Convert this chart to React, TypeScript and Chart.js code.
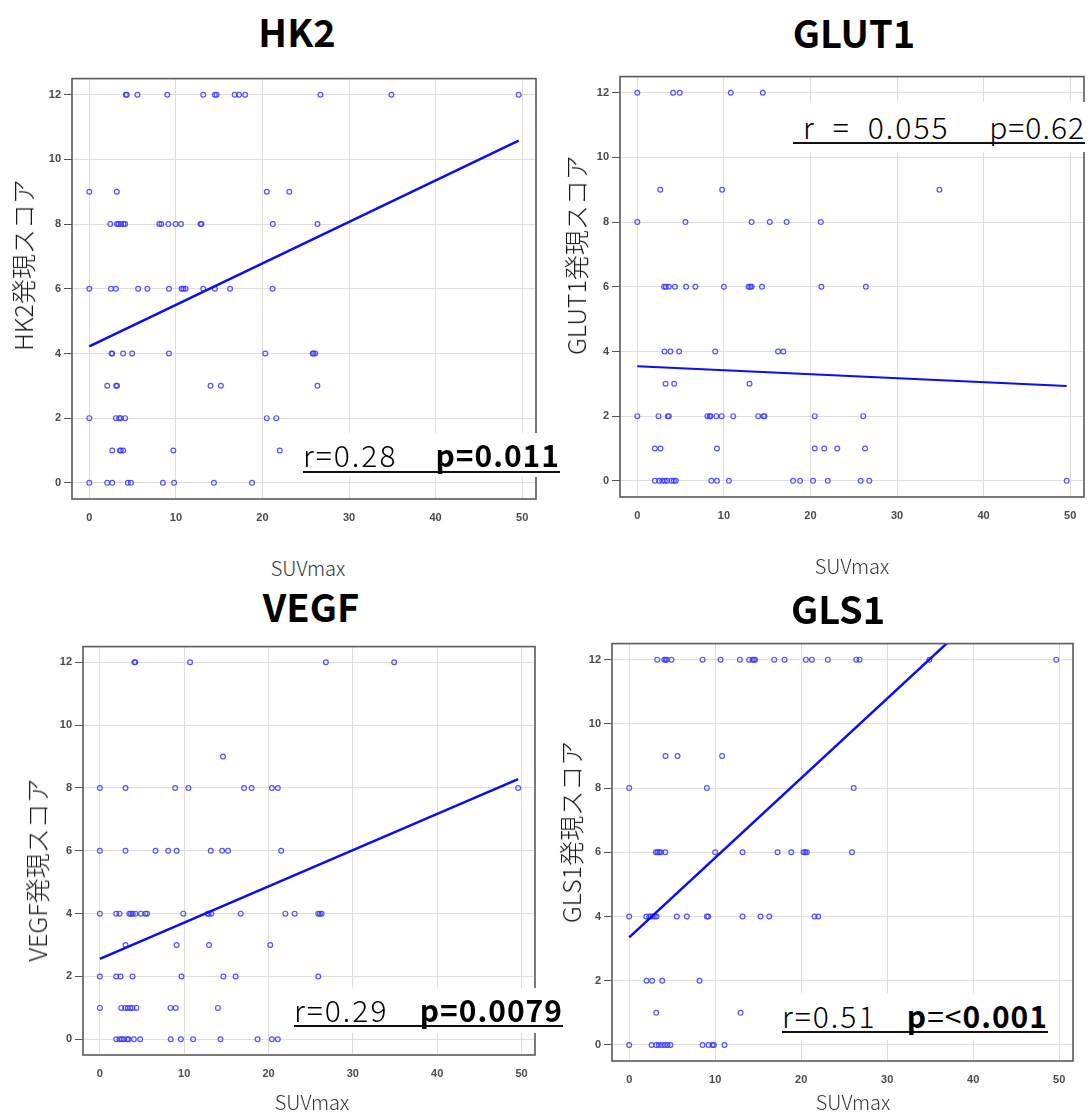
import React, { useEffect, useRef } from "react";
import { Chart, registerables } from "chart.js";

Chart.register(...registerables);

// ---------- shared axis data ----------
const xTicks = [0, 10, 20, 30, 40, 50];
const yTicks = [0, 2, 4, 6, 8, 10, 12];
const xMin = -2;
const xMax = 51.6;
const yMin = -0.5;
const yMax = 12.5;
const xAxisTitle = "SUVmax";

// ---------- HK2 ----------
const hk2Levels = [12, 9, 8, 6, 4, 3, 2, 1, 0];
const hk2Suv = [
  [4.22, 4.33, 5.56, 9.01, 13.16, 14.5, 14.7, 16.8, 17.3, 18.0, 26.7, 34.9, 49.6],
  [0, 3.18, 20.5, 23.1],
  [2.42, 3.18, 3.38, 3.64, 3.95, 4.14, 8.09, 8.32, 9.13, 9.97, 10.6, 12.85, 12.96, 21.2, 26.35],
  [0, 2.5, 3.07, 5.64, 6.71, 9.2, 10.66, 10.86, 11.12, 13.16, 14.5, 16.26, 21.17],
  [2.57, 2.65, 3.91, 4.95, 9.2, 20.33, 25.8, 25.9, 26.1],
  [2.07, 3.1, 3.2, 14.0, 15.2, 26.35],
  [0, 3.07, 3.45, 3.64, 4.14, 20.5, 21.6],
  [2.65, 3.53, 3.64, 3.91, 9.7, 22.0],
  [0, 2.07, 2.65, 4.45, 4.8, 8.5, 9.8, 14.4, 18.8],
];
const hk2Fit = [[0, 4.22], [49.6, 10.58]];

// ---------- GLUT1 ----------
const glut1Levels = [12, 9, 8, 6, 4, 3, 2, 1, 0];
const glut1Suv = [
  [0, 4.14, 4.9, 10.8, 14.5],
  [2.65, 9.8, 34.9],
  [0, 5.56, 13.2, 15.3, 17.25, 21.2],
  [3.1, 3.3, 3.65, 4.34, 5.64, 6.71, 10.0, 12.85, 13.04, 13.2, 14.4, 21.26, 26.4],
  [3.14, 3.83, 4.83, 9.0, 16.26, 16.87],
  [3.26, 4.26, 12.96],
  [0, 2.45, 3.53, 3.64, 8.1, 8.36, 8.47, 9.13, 9.74, 11.08, 13.96, 14.57, 14.69, 20.5, 26.1],
  [2.03, 2.68, 9.2, 20.5, 21.6, 23.1, 26.3],
  [2.03, 2.53, 2.88, 3.18, 3.45, 3.95, 4.22, 4.45, 8.55, 9.2, 10.58, 18.0, 18.8, 20.3, 22.0, 25.8, 26.8, 49.6],
];
const glut1Fit = [[0, 3.54], [49.6, 2.93]];

// ---------- VEGF ----------
const vegfLevels = [12, 9, 8, 6, 4, 3, 2, 1, 0];
const vegfSuv = [
  [4.1, 4.2, 10.7, 26.8, 34.9],
  [14.6],
  [0, 3.04, 8.93, 10.5, 17.1, 18.0, 20.4, 21.1, 49.6],
  [0, 3.04, 6.6, 8.1, 9.1, 13.15, 14.5, 15.2, 21.5],
  [0, 1.94, 2.33, 3.5, 3.7, 3.9, 4.2, 4.86, 5.4, 5.6, 9.9, 12.8, 12.9, 13.2, 16.7, 22.0, 23.1, 25.9, 26.1, 26.3],
  [3.04, 9.1, 12.95, 20.2],
  [0, 1.94, 2.45, 3.87, 9.68, 14.65, 16.1, 25.9],
  [0, 2.53, 3.0, 3.3, 3.6, 3.87, 4.34, 8.37, 9.0, 14.0],
  [1.94, 2.33, 2.6, 2.84, 3.24, 3.4, 4.03, 4.78, 8.4, 9.6, 11.06, 14.3, 18.7, 20.4, 21.1],
];
const vegfFit = [[0, 2.56], [49.6, 8.28]];

// ---------- GLS1 ----------
const gls1Levels = [12, 9, 8, 6, 4, 2, 1, 0];
const gls1Suv = [
  [3.26, 4.07, 4.22, 4.38, 4.92, 8.53, 10.62, 12.87, 13.95, 14.34, 14.5, 14.65, 16.86, 18.06, 20.54, 21.24, 23.1, 26.4, 26.78, 34.9, 49.65],
  [4.22, 5.62, 10.8],
  [0, 9.03, 26.1],
  [3.1, 3.3, 3.5, 3.68, 4.19, 10.0, 13.18, 17.25, 18.84, 20.27, 20.47, 20.66, 25.9],
  [0, 1.98, 2.33, 2.52, 2.75, 2.98, 3.18, 5.54, 6.7, 9.03, 9.19, 13.18, 15.27, 16.28, 21.55, 21.98],
  [2.02, 2.67, 3.84, 8.18],
  [3.14, 12.95],
  [0, 2.6, 3.14, 3.45, 3.8, 4.15, 4.46, 4.8, 8.53, 9.22, 9.69, 9.84, 11.08],
];
const gls1Fit = [[0, 3.35], [37.5, 12.65]];

// ---------- texts ----------
const titles = ["HK2", "GLUT1", "VEGF", "GLS1"];
const yAxisTitles = ["HK2発現スコア", "GLUT1発現スコア", "VEGF発現スコア", "GLS1発現スコア"];

const JP = "'Noto Sans CJK JP', 'Noto Sans', sans-serif";
const TICKFONT = "'Liberation Sans Narrow', 'Liberation Sans', Arial, sans-serif";

const boxPlugin = {
  id: "plotBox",
  afterDraw(chart: any) {
    const { ctx, chartArea: a } = chart;
    ctx.save();
    ctx.strokeStyle = "#595959";
    ctx.lineWidth = 1.6;
    ctx.strokeRect(a.left, a.top, a.right - a.left, a.bottom - a.top);
    ctx.restore();
  },
};

type Rect = { L: number; T: number; R: number; B: number };

const YW = 45;
const XH = 35;
const PT = 6;
const PR = 6;

function ScatterPanel(props: {
  levels: number[];
  suv: number[][];
  fit: number[][];
  rect: Rect;
  lineWidth: number;
}) {
  const { levels, suv, fit, rect, lineWidth } = props;
  const ref = useRef<HTMLCanvasElement | null>(null);
  const width = rect.R - rect.L + YW + PR;
  const height = rect.B - rect.T + PT + XH;

  useEffect(() => {
    const points: { x: number; y: number }[] = [];
    levels.forEach((lv, i) => suv[i].forEach((x) => points.push({ x, y: lv })));
    const chart = new Chart(ref.current as HTMLCanvasElement, {
      type: "scatter",
      data: {
        datasets: [
          {
            data: fit.map(([x, y]) => ({ x, y })),
            showLine: true,
            borderColor: "#0c0cf0",
            borderWidth: lineWidth,
            pointRadius: 0,
            pointHoverRadius: 0,
            clip: 0,
            order: 1,
          } as any,
          {
            data: points,
            pointRadius: 2.4,
            pointHoverRadius: 2.4,
            borderWidth: 1.2,
            pointBorderWidth: 1.2,
            borderColor: "rgba(55,55,255,0.85)",
            backgroundColor: "rgba(255,255,255,0)",
            order: 2,
          } as any,
        ],
      },
      options: {
        animation: false,
        responsive: false,
        events: [],
        layout: { padding: { top: PT, right: PR, left: 0, bottom: 0 } },
        plugins: { legend: { display: false }, tooltip: { enabled: false } },
        scales: {
          x: {
            type: "linear",
            min: xMin,
            max: xMax,
            afterBuildTicks: (s: any) => {
              s.ticks = xTicks.map((v) => ({ value: v }));
            },
            afterFit: (s: any) => {
              s.height = XH;
            },
            grid: {
              color: "#dedede",
              lineWidth: 1,
              drawTicks: true,
              tickLength: 6,
              tickColor: "rgba(0,0,0,0)",
            },
            border: { display: false },
            ticks: {
              padding: 6,
              color: "#4a4a4a",
              font: { family: TICKFONT, size: 11, weight: "bold" },
              maxRotation: 0,
            },
          },
          y: {
            type: "linear",
            min: yMin,
            max: yMax,
            afterBuildTicks: (s: any) => {
              s.ticks = yTicks.map((v) => ({ value: v }));
            },
            afterFit: (s: any) => {
              s.width = YW;
            },
            grid: {
              color: "#dedede",
              lineWidth: 1,
              drawTicks: true,
              tickLength: 8,
              tickColor: "#555",
            },
            border: { display: false },
            ticks: {
              padding: 3,
              color: "#4a4a4a",
              font: { family: TICKFONT, size: 11, weight: "bold" },
            },
          },
        },
      } as any,
      plugins: [boxPlugin],
    });
    return () => chart.destroy();
  }, []);

  return (
    <canvas
      ref={ref}
      width={width}
      height={height}
      style={{ position: "absolute", left: rect.L - YW, top: rect.T - PT, width, height }}
    />
  );
}

function Title(props: { text: string; cx: number; cy: number }) {
  return (
    <div
      style={{
        position: "absolute",
        left: props.cx,
        top: props.cy,
        transform: "translate(-50%, -50%)",
        fontFamily: JP,
        fontWeight: 700,
        fontSize: 38,
        lineHeight: "44px",
        color: "#000",
        whiteSpace: "nowrap",
      }}
    >
      {props.text}
    </div>
  );
}

function YTitle(props: { text: string; cx: number; cy: number }) {
  return (
    <div
      style={{
        position: "absolute",
        left: props.cx,
        top: props.cy,
        transform: "translate(-50%, -50%) rotate(-90deg)",
        fontFamily: JP,
        fontWeight: 300,
        fontSize: 25,
        lineHeight: "30px",
        color: "#1a1a1a",
        whiteSpace: "nowrap",
      }}
    >
      {props.text}
    </div>
  );
}

function XTitle(props: { cx: number; cy: number }) {
  return (
    <div
      style={{
        position: "absolute",
        left: props.cx,
        top: props.cy,
        transform: "translate(-50%, -50%)",
        fontFamily: JP,
        fontWeight: 300,
        fontSize: 20,
        lineHeight: "24px",
        color: "#333",
        whiteSpace: "nowrap",
      }}
    >
      {xAxisTitle}
    </div>
  );
}

function StatBox(props: {
  bg: Rect;
  line: Rect;
  padLeft?: number;
  left: React.ReactNode;
  right: React.ReactNode;
}) {
  const { bg, line } = props;
  return (
    <>
      <div
        style={{
          position: "absolute",
          left: bg.L,
          top: bg.T,
          width: bg.R - bg.L,
          height: bg.B - bg.T,
          background: "#fff",
        }}
      />
      <div
        style={{
          position: "absolute",
          left: line.L,
          top: line.T,
          width: line.R - line.L,
          height: line.B - line.T,
          borderBottom: "2px solid #111",
          boxSizing: "border-box",
          display: "flex",
          justifyContent: "space-between",
          alignItems: "center",
          paddingLeft: props.padLeft || 0,
          fontFamily: JP,
          fontSize: 30,
          letterSpacing: 1,
          color: "#000",
          whiteSpace: "nowrap",
        }}
      >
        <span style={{ fontWeight: 300, letterSpacing: 2 }}>{props.left}</span>
        <span>{props.right}</span>
      </div>
    </>
  );
}

export default function App() {
  return (
    <div
      style={{
        position: "absolute",
        left: 0,
        top: 0,
        width: 1089,
        height: 1113,
        background: "#fff",
        overflow: "hidden",
      }}
    >
      <ScatterPanel levels={hk2Levels} suv={hk2Suv} fit={hk2Fit} rect={{ L: 72, T: 75, R: 536, B: 499 }} lineWidth={2.5} />
      <ScatterPanel levels={glut1Levels} suv={glut1Suv} fit={glut1Fit} rect={{ L: 620, T: 73, R: 1084, B: 497 }} lineWidth={2} />
      <ScatterPanel levels={vegfLevels} suv={vegfSuv} fit={vegfFit} rect={{ L: 83, T: 643, R: 535, B: 1055 }} lineWidth={2.5} />
      <ScatterPanel levels={gls1Levels} suv={gls1Suv} fit={gls1Fit} rect={{ L: 612, T: 640, R: 1073, B: 1061 }} lineWidth={2.5} />

      <Title text={titles[0]} cx={297} cy={31} />
      <Title text={titles[1]} cx={854} cy={32} />
      <Title text={titles[2]} cx={311} cy={606} />
      <Title text={titles[3]} cx={838} cy={608} />

      <YTitle text={yAxisTitles[0]} cx={22} cy={265} />
      <YTitle text={yAxisTitles[1]} cx={575} cy={255} />
      <YTitle text={yAxisTitles[2]} cx={36} cy={870} />
      <YTitle text={yAxisTitles[3]} cx={570} cy={832} />

      <XTitle cx={308} cy={568} />
      <XTitle cx={852} cy={566} />
      <XTitle cx={312} cy={1102} />
      <XTitle cx={853} cy={1102} />

      <StatBox
        bg={{ L: 299, T: 433, R: 563, B: 477 }}
        line={{ L: 303, T: 436, R: 560, B: 473 }}
        left={"r=0.28"}
        right={<b style={{ fontWeight: 700 }}>p=0.011</b>}
      />
      <StatBox
        bg={{ L: 789, T: 102, R: 1089, B: 152 }}
        line={{ L: 793, T: 109, R: 1085, B: 144 }}
        padLeft={10}
        left={"r\u2002=\u20020.055"}
        right={<span style={{ fontWeight: 300 }}>p=0.62</span>}
      />
      <StatBox
        bg={{ L: 290, T: 988, R: 566, B: 1033 }}
        line={{ L: 294, T: 993, R: 563, B: 1027 }}
        left={"r=0.29"}
        right={<b style={{ fontWeight: 700 }}>p=0.0079</b>}
      />
      <StatBox
        bg={{ L: 778, T: 993, R: 1052, B: 1040 }}
        line={{ L: 782, T: 998, R: 1048, B: 1033 }}
        left={"r=0.51"}
        right={
          <span>
            <b style={{ fontWeight: 700 }}>p</b>
            <span style={{ fontWeight: 400 }}>=&lt;</span>
            <b style={{ fontWeight: 700 }}>0.001</b>
          </span>
        }
      />
    </div>
  );
}
